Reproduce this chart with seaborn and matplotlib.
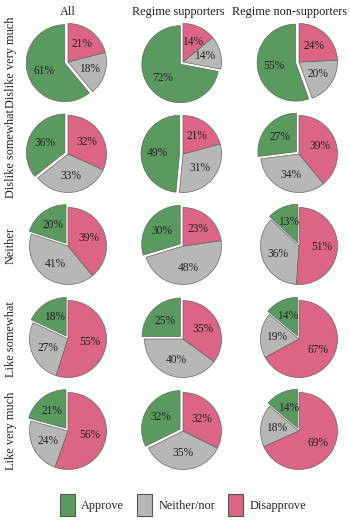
import matplotlib
matplotlib.use("Agg")
import matplotlib.pyplot as plt
import matplotlib.patches as mpatches
import seaborn as sns

groups = ["All", "Regime supporters", "Regime non-supporters"]
rows = ["Dislike very much", "Dislike somewhat", "Neither", "Like somewhat", "Like very much"]
cats = ["Approve", "Neither/nor", "Disapprove"]

# values per row, per group: approve, neither, disapprove
all_vals = [[61, 18, 21], [36, 33, 32], [20, 41, 39], [18, 27, 55], [21, 24, 56]]
sup_vals = [[72, 14, 14], [49, 31, 21], [30, 48, 23], [25, 40, 35], [32, 35, 32]]
non_vals = [[55, 20, 24], [27, 34, 39], [13, 36, 51], [14, 19, 67], [14, 18, 69]]
data = [all_vals, sup_vals, non_vals]

colors = ["#5b9a5f", "#b7b7b7", "#dc6484"]

sns.set_theme(style="white")
plt.rcParams["font.family"] = ["Liberation Serif", "DejaVu Serif"]

W, H = 350, 520
fig = plt.figure(figsize=(W / 100, H / 100), dpi=100)

col_x = [68, 183, 299]
title_x = [68, 178, 290]
row_y = [62, 154, 246, 339, 431]
R = 38.5
bw, bh = 112, 92

for j, grp in enumerate(data):
    for i, vals in enumerate(grp):
        cx, cy = col_x[j], row_y[i]
        ax = fig.add_axes([(cx - bw / 2) / W, 1 - (cy + bh / 2) / H, bw / W, bh / H])
        it = iter(vals)
        ax.pie(vals, colors=colors, startangle=90, counterclock=True,
               explode=[0.09, 0, 0],
               autopct=lambda p, it=it: f"{next(it)}%",
               pctdistance=0.58,
               wedgeprops=dict(edgecolor="#666666", linewidth=0.5),
               textprops=dict(fontsize=8.3, color="#222222"))
        ax.set_xlim(-bw / 2 / R, bw / 2 / R)
        ax.set_ylim(-bh / 2 / R, bh / 2 / R)
        ax.axis("off")

for j, g in enumerate(groups):
    fig.text(title_x[j] / W, 1 - 12 / H, g, ha="center", va="center", fontsize=8.8, color="#222222")

for i, r in enumerate(rows):
    fig.text(11 / W, 1 - row_y[i] / H, r, ha="center", va="center", rotation=90,
             fontsize=8.8, color="#222222")

handles = [mpatches.Patch(facecolor=c, edgecolor="#555555", linewidth=0.8, label=l)
           for c, l in zip(colors, cats)]
fig.legend(handles=handles, loc="center", bbox_to_anchor=(183 / W, 1 - 505 / H), ncol=3,
           frameon=False, fontsize=8.8, handlelength=1.2, handleheight=2.4,
           columnspacing=1.1, handletextpad=0.5)

fig.savefig("out.png", dpi=100)
